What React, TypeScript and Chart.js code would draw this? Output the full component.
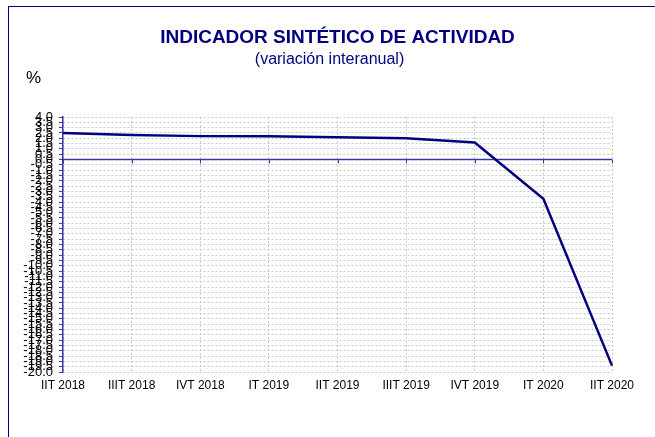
import React, { useEffect, useRef } from 'react';
import { Chart, registerables } from 'chart.js';

Chart.register(...registerables);

const categories = ['IIT 2018', 'IIIT 2018', 'IVT 2018', 'IT 2019', 'IIT 2019', 'IIIT 2019', 'IVT 2019', 'IT 2020', 'IIT 2020'];
const isaValues = [2.5, 2.3, 2.2, 2.2, 2.1, 2.0, 1.6, -3.7, -19.4];
const yMin = -20;
const yMax = 4;
const yStep = 0.5;
const titleText = 'INDICADOR SINTÉTICO DE ACTIVIDAD';
const subtitleText = '(variación interanual)';
const unitText = '%';

const FONT = "'Liberation Sans', Arial, sans-serif";
const NAVY = '#000080';
const AXIS = '#3838a8';
const GRID = '#c8c8c8';

const overlayPlugin = {
  id: 'overlay',
  beforeDatasetsDraw(chart: any) {
    const { ctx, chartArea, scales } = chart;
    const y0 = scales.y.getPixelForValue(0);
    ctx.save();
    ctx.strokeStyle = AXIS;
    ctx.lineWidth = 1.5;
    ctx.beginPath();
    ctx.moveTo(chartArea.left, y0);
    ctx.lineTo(chartArea.right, y0);
    ctx.stroke();
    ctx.lineWidth = 1;
    for (let i = 0; i < categories.length; i++) {
      const x = Math.round(scales.x.getPixelForValue(i)) + 0.5;
      ctx.beginPath();
      ctx.moveTo(x, y0);
      ctx.lineTo(x, y0 + 4);
      ctx.stroke();
    }
    ctx.restore();
  },
  afterDraw(chart: any) {
    const { ctx, chartArea } = chart;
    const cx = (chartArea.left + chartArea.right) / 2;
    ctx.save();
    ctx.textAlign = 'center';
    ctx.textBaseline = 'middle';
    ctx.fillStyle = NAVY;
    ctx.font = `bold 19px ${FONT}`;
    ctx.fillText(titleText, cx, 38);
    ctx.font = `16px ${FONT}`;
    ctx.fillText(subtitleText, cx - 8, 60);
    ctx.fillStyle = '#000';
    ctx.font = `17px ${FONT}`;
    ctx.textAlign = 'left';
    ctx.fillText(unitText, 26, 78);
    ctx.restore();
  },
};

export default function App() {
  const ref = useRef<HTMLCanvasElement | null>(null);
  useEffect(() => {
    document.body.style.margin = '0';
    if (!ref.current) return;
    const chart = new Chart(ref.current, {
      type: 'line',
      data: {
        labels: categories,
        datasets: [
          {
            data: isaValues,
            borderColor: NAVY,
            borderWidth: 2.5,
            pointRadius: 0,
            tension: 0,
            fill: false,
          },
        ],
      },
      options: {
        animation: false,
        responsive: false,
        maintainAspectRatio: false,
        layout: { padding: { left: 13, right: 43, top: 117, bottom: 38 } },
        plugins: {
          legend: { display: false },
          title: { display: false },
          tooltip: { enabled: false },
        },
        scales: {
          x: {
            type: 'category',
            offset: false,
            afterFit: (s: any) => {
              s.height = 27;
            },
            grid: {
              display: true,
              color: GRID,
              lineWidth: 1,
              drawTicks: false,
              drawOnChartArea: true,
            },
            border: { display: false, dash: [2, 2] },
            ticks: {
              autoSkip: false,
              maxRotation: 0,
              padding: 6,
              color: '#000',
              font: { family: FONT, size: 12 },
            },
          },
          y: {
            type: 'linear',
            min: yMin,
            max: yMax,
            afterFit: (s: any) => {
              s.width = 50;
            },
            grid: {
              color: GRID,
              lineWidth: 1,
              drawTicks: true,
              tickLength: 4,
              tickColor: AXIS,
              tickBorderDash: [],
              tickWidth: 1,
            },
            border: { display: true, color: AXIS, width: 1.5, dash: [2, 2] },
            ticks: {
              stepSize: yStep,
              autoSkip: false,
              padding: 6,
              color: '#000',
              font: { family: FONT, size: 13 },
              callback: (v: any) => Number(v).toFixed(1),
            },
          },
        },
      },
      plugins: [overlayPlugin],
    });
    return () => chart.destroy();
  }, []);

  return (
    <div style={{ position: 'relative', width: 655, height: 437 }}>
      <div
        style={{
          position: 'absolute',
          left: 8,
          top: 6,
          right: 0,
          bottom: 0,
          borderLeft: `1px solid ${NAVY}`,
          borderTop: `1px solid ${NAVY}`,
          pointerEvents: 'none',
        }}
      />
      <canvas ref={ref} width={655} height={437} style={{ position: 'absolute', left: 0, top: 0 }} />
    </div>
  );
}
